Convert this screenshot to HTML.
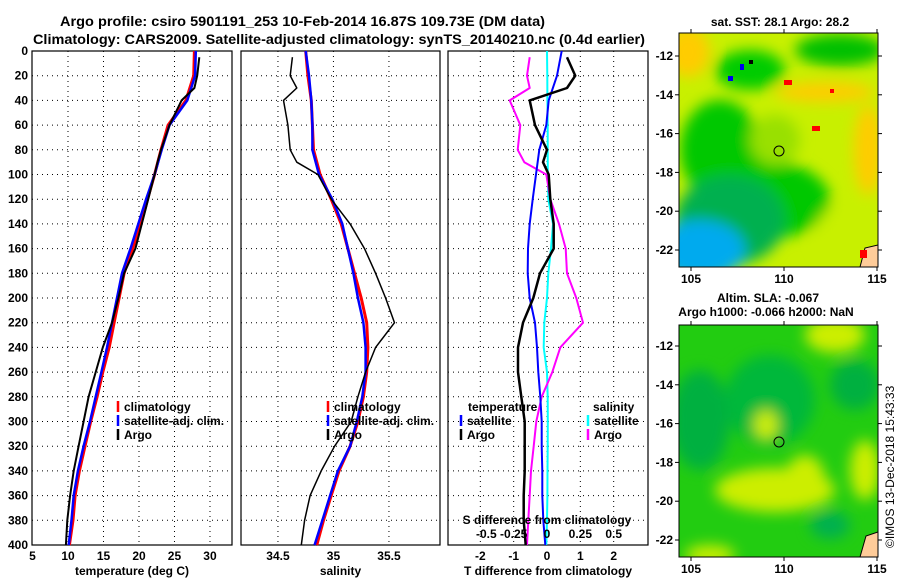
<!DOCTYPE html>
<html><head><meta charset="utf-8"><style>
html,body{margin:0;padding:0;background:#fff;}
svg{display:block;font-family:"Liberation Sans",Arial,sans-serif;font-weight:bold;}
</style></head><body>
<svg id="chart" width="900" height="580" viewBox="0 0 900 580" xmlns="http://www.w3.org/2000/svg">
<defs>
<filter id="blur6" x="-20%" y="-20%" width="140%" height="140%"><feGaussianBlur stdDeviation="7"/></filter>
<clipPath id="clipTop"><rect x="679" y="33" width="199" height="234"/></clipPath>
<clipPath id="clipBot"><rect x="679" y="325" width="199" height="232"/></clipPath>
</defs>
<text x="60" y="26" font-size="14" textLength="485" lengthAdjust="spacingAndGlyphs">Argo profile: csiro 5901191_253 10-Feb-2014 16.87S 109.73E (DM data)</text>
<text x="33" y="44" font-size="14" textLength="612" lengthAdjust="spacingAndGlyphs">Climatology: CARS2009. Satellite-adjusted climatology: synTS_20140210.nc (0.4d earlier)</text>

<g id="maps">
<g clip-path="url(#clipTop)">
<rect x="679" y="33" width="199" height="234" fill="#c8f000"/>
<g filter="url(#blur6)">
<ellipse cx="688" cy="52" rx="22" ry="25" fill="#ffcc00"/>
<ellipse cx="825" cy="92" rx="50" ry="10" fill="#ffcc00"/>
<ellipse cx="868" cy="150" rx="14" ry="45" fill="#ffcc00"/>
<ellipse cx="750" cy="70" rx="35" ry="20" fill="#00cc00"/>
<ellipse cx="840" cy="50" rx="45" ry="16" fill="#00c000"/>
<ellipse cx="720" cy="150" rx="40" ry="50" fill="#00c800"/>
<ellipse cx="760" cy="200" rx="70" ry="40" fill="#00c800"/>
<ellipse cx="730" cy="220" rx="55" ry="45" fill="#00b050"/>
<ellipse cx="700" cy="250" rx="45" ry="30" fill="#00aaee"/>
<ellipse cx="775" cy="140" rx="25" ry="25" fill="#99e000"/>
<ellipse cx="845" cy="235" rx="30" ry="30" fill="#c8f000"/>
</g>
<rect x="812" y="126" width="8" height="5" fill="#ff0000"/>
<rect x="784" y="80" width="8" height="5" fill="#ff0000"/>
<rect x="830" y="89" width="4" height="4" fill="#ff0000"/>
<rect x="740" y="64" width="4" height="6" fill="#0000ee"/>
<rect x="728" y="76" width="5" height="5" fill="#0000ee"/>
<rect x="749" y="60" width="4" height="4" fill="#000"/>
<path d="M878 245 L865 248 L860 267 L878 267 Z" fill="#ffcc99" stroke="#000" stroke-width="1"/>
<rect x="860" y="250" width="7" height="8" fill="#ff0000"/>
</g>
<rect x="679" y="33" width="199" height="234" fill="none" stroke="#000" stroke-width="1"/>
<circle cx="779" cy="151" r="5" fill="none" stroke="#000"/>

<g clip-path="url(#clipBot)">
<rect x="679" y="325" width="199" height="232" fill="#22cc11"/>
<g filter="url(#blur6)">
<ellipse cx="700" cy="420" rx="30" ry="50" fill="#00b040"/>
<ellipse cx="770" cy="400" rx="45" ry="45" fill="#00b83a"/>
<ellipse cx="855" cy="385" rx="25" ry="25" fill="#00b040"/>
<ellipse cx="835" cy="335" rx="30" ry="18" fill="#ccee00"/>
<ellipse cx="766" cy="425" rx="12" ry="15" fill="#ccee00"/>
<ellipse cx="775" cy="490" rx="60" ry="22" fill="#ccee00"/>
<ellipse cx="805" cy="480" rx="20" ry="25" fill="#ccee00"/>
<ellipse cx="865" cy="470" rx="15" ry="30" fill="#ccee00"/>
<ellipse cx="710" cy="555" rx="25" ry="10" fill="#ccee00"/>
<ellipse cx="830" cy="525" rx="20" ry="14" fill="#00b050"/>
</g>
<path d="M878 532 L866 536 L860 557 L878 557 Z" fill="#ffcc99" stroke="#000" stroke-width="1"/>
</g>
<rect x="679" y="325" width="199" height="232" fill="none" stroke="#000" stroke-width="1"/>
<circle cx="779" cy="442" r="5" fill="none" stroke="#000"/>
<text x="780" y="26" font-size="12" text-anchor="middle">sat. SST: 28.1 Argo: 28.2</text>
<text x="768" y="302" font-size="12" text-anchor="middle">Altim. SLA: -0.067</text>
<text x="766" y="316" font-size="12" text-anchor="middle">Argo h1000: -0.066 h2000: NaN</text>
<text x="0" y="0" font-size="12" font-weight="normal" transform="translate(894,548) rotate(-90)">©IMOS 13-Dec-2018 15:43:33</text>
</g>

<g id="plots"></g>
</svg>
<script>
// ---- data ----
const climDepth = [0,20,40,60,80,100,120,140,160,180,200,220,240,260,280,300,320,340,360,380,400];
const climT = [27.8,27.7,26.6,24.1,23.1,22.2,21.2,20.3,19.1,17.9,17.2,16.5,15.8,14.9,14.1,13.2,12.4,11.6,11.0,10.7,10.2];
const satT  = [28.0,27.9,26.8,24.3,23.2,22.2,21.0,19.9,18.8,17.6,16.9,16.2,15.5,14.7,13.9,13.1,12.2,11.4,10.8,10.5,10.1];
const climS = [34.75,34.77,34.80,34.81,34.82,34.88,34.98,35.07,35.13,35.19,35.25,35.30,35.31,35.30,35.27,35.22,35.15,35.05,34.98,34.91,34.85];
const satS  = [34.75,34.78,34.80,34.81,34.81,34.87,34.99,35.08,35.13,35.18,35.22,35.27,35.29,35.29,35.26,35.21,35.15,35.04,34.97,34.90,34.83];
const satTdiff = [0.44,0.3,0.05,-0.02,-0.23,-0.33,-0.43,-0.52,-0.57,-0.58,-0.52,-0.36,-0.3,-0.26,-0.2,-0.16,-0.16,-0.14,-0.14,-0.11,-0.05];
const satSdiff = [0,0.002,0.003,0.005,0.005,0.006,0.01,0.045,0.03,0.01,0,-0.02,-0.025,0,0.005,0.006,0.005,0.004,0.003,0,-0.005];
const argoDepth = [5,20,30,40,60,80,90,100,120,140,160,180,200,220,240,260,280,300,320,340,360,380,400];
const argoT = [28.5,28.2,27.8,26.0,24.3,23.1,22.6,22.2,21.3,20.4,19.5,17.9,17.1,16.2,14.9,13.9,12.9,12.2,11.5,10.8,10.3,9.9,9.7];
const argoS = [34.63,34.61,34.67,34.55,34.59,34.61,34.67,34.86,34.98,35.15,35.28,35.38,35.47,35.55,35.38,35.29,35.22,35.16,35.01,34.89,34.79,34.74,34.71];
const argoTdiff = [0.60,0.85,0.6,-0.52,-0.36,0,-0.12,0.05,0.1,0.2,0.2,-0.21,-0.41,-0.72,-0.87,-0.87,-0.77,-0.67,-0.67,-0.67,-0.7,-0.7,-0.64];
const argoSdiff = [-0.13,-0.15,-0.13,-0.28,-0.2,-0.22,-0.17,-0.005,0.025,0.09,0.14,0.15,0.22,0.27,0.1,0.04,-0.04,-0.08,-0.1,-0.12,-0.13,-0.14,-0.15];
const depthTicks = [0,20,40,60,80,100,120,140,160,180,200,220,240,260,280,300,320,340,360,380,400];
const tempTicks = [5,10,15,20,25,30];
const salTicks = [34.5,35,35.5];
const tdiffTicks = [-2,-1,0,1,2];
const sdiffTicks = [-0.5,-0.25,0,0.25,0.5];
const sdiffLabels = ['-0.5','-0.25','0','0.25','0.5'];

const NS='http://www.w3.org/2000/svg';
const root=document.getElementById('plots');
const TOP=51, BOT=545;
function yD(d){return TOP+(BOT-TOP)*d/400;}
function mk(tag,attrs,parent){const e=document.createElementNS(NS,tag);for(const k in attrs)e.setAttribute(k,attrs[k]);(parent||root).appendChild(e);return e;}

const panels=[
 {name:'temperature',x0:32,x1:232,v0:4.93,v1:33.1,ticks:tempTicks,label:'temperature (deg C)'},
 {name:'salinity',x0:241,x1:440,v0:34.167,v1:35.96,ticks:salTicks,label:'salinity'},
 {name:'difference',x0:448,x1:648,v0:-2.97,v1:3.03,ticks:tdiffTicks,label:'T difference from climatology'}
];
panels.forEach(p=>{p.x=v=>p.x0+(p.x1-p.x0)*(v-p.v0)/(p.v1-p.v0);});

panels.forEach((p,i)=>{
  const g=mk('g',{});
  
  
  depthTicks.forEach(d=>{
    if(d>0&&d<400){const l=mk('line',{x1:p.x0,x2:p.x1,y1:yD(d),y2:yD(d),stroke:'#000','stroke-width':1,'stroke-dasharray':'1,4'},g);
    }
  });
  p.ticks.forEach(v=>{
    const xx=p.x(v);
    if(xx>p.x0+2&&xx<p.x1-2){const l=mk('line',{x1:xx,x2:xx,y1:TOP,y2:BOT,stroke:'#000','stroke-width':1,'stroke-dasharray':'1,4'},g);
    }
    const t=mk('text',{x:xx,y:560,'font-size':12,'text-anchor':'middle'},g);
    
    t.textContent=String(v);
  });
  const fr=mk('rect',{x:p.x0,y:TOP,width:p.x1-p.x0,height:BOT-TOP,fill:'none',stroke:'#000','stroke-width':1.2},g);
  
  const al=mk('text',{x:(p.x0+p.x1)/2,y:575,'font-size':12,'text-anchor':'middle'},g);
  
  al.textContent=p.label;
});
depthTicks.forEach(d=>{
  const t=mk('text',{x:28,y:yD(d)+4,'font-size':12,'text-anchor':'end'});
  
  
  t.textContent=String(d);
});
function series(p,vals,depths,color,w,name){
  const pts=vals.map((v,i)=>p.x(v).toFixed(1)+','+yD(depths[i]).toFixed(1)).join(' ');
  const pl=mk('polyline',{points:pts,fill:'none',stroke:color,'stroke-width':w,'stroke-linejoin':'round'});
  
  
}
const P1=panels[0],P2=panels[1],P3=panels[2];
series(P1,climT,climDepth,'#ff0000',3,'temp-climatology-line');
series(P1,satT,climDepth,'#0000ff',2.5,'temp-satellite-line');
series(P1,argoT,argoDepth,'#000',2,'temp-argo-line');
series(P2,climS,climDepth,'#ff0000',3,'sal-climatology-line');
series(P2,satS,climDepth,'#0000ff',2.5,'sal-satellite-line');
series(P2,argoS,argoDepth,'#000',1.5,'sal-argo-line');
series(P3,satSdiff.map(v=>v*4),climDepth,'#00ffff',2,'sdiff-satellite-line');
series(P3,argoSdiff.map(v=>v*4),argoDepth,'#ff00ff',2,'sdiff-argo-line');
series(P3,satTdiff,climDepth,'#0000ff',2,'tdiff-satellite-line');
series(P3,argoTdiff,argoDepth,'#000',2.5,'tdiff-argo-line');
sdiffTicks.forEach((v,i)=>{
  const t=mk('text',{x:P3.x(v*4)+(i===0?6:0),y:538,'font-size':12,'text-anchor':'middle'});
  
  
  t.textContent=sdiffLabels[i];
});
const st=mk('text',{x:547,y:524,'font-size':12,'text-anchor':'middle'});


st.textContent='S difference from climatology';
function legend(x,y,color,label,name){
  const g=mk('g',{});
  
  
  mk('line',{x1:x,x2:x,y1:y-10,y2:y+1,stroke:color,'stroke-width':2.5},g);
  const t=mk('text',{x:x+6,y:y,'font-size':12},g);t.textContent=label;
}
legend(118,411,'#ff0000','climatology','legend-climatology');
legend(328,411,'#ff0000','climatology','legend-climatology');
legend(118,425,'#0000ff','satellite-adj. clim.','legend-satellite-adj');
legend(328,425,'#0000ff','satellite-adj. clim.','legend-satellite-adj');
legend(118,439,'#000','Argo','legend-argo');
legend(328,439,'#000','Argo','legend-argo');
const tl=mk('text',{x:468,y:411,'font-size':12});


tl.textContent='temperature';
const sl=mk('text',{x:593,y:411,'font-size':12});


sl.textContent='salinity';
legend(461,425,'#0000ff','satellite','legend-t-satellite');
legend(461,439,'#000','Argo','legend-t-argo');
legend(588,425,'#00ffff','satellite','legend-s-satellite');
legend(588,439,'#ff00ff','Argo','legend-s-argo');
const lonTicks=[105,110,115];
const latTicks=[-12,-14,-16,-18,-20,-22];
function lonX(l){return 691+(l-105)*18.6;}
[[33,267,56,250],[325,557,346,540]].forEach((m,k)=>{
  lonTicks.forEach(l=>{
    mk('line',{x1:lonX(l),x2:lonX(l),y1:m[0]-4,y2:m[0],stroke:'#000'});
    mk('line',{x1:lonX(l),x2:lonX(l),y1:m[1],y2:m[1]+4,stroke:'#000'});
    const t=mk('text',{x:lonX(l),y:m[1]+16,'font-size':12,'text-anchor':'middle'});
    
    
    t.textContent=String(l);
  });
  latTicks.forEach(la=>{
    const y=m[2]+(m[3]-m[2])*(-12-la)/10;
    mk('line',{x1:675,x2:679,y1:y,y2:y,stroke:'#000'});
    mk('line',{x1:878,x2:882,y1:y,y2:y,stroke:'#000'});
    const t=mk('text',{x:673,y:y+4,'font-size':12,'text-anchor':'end'});
    
    
    t.textContent=String(la);
  });
});
</script>
</body></html>
